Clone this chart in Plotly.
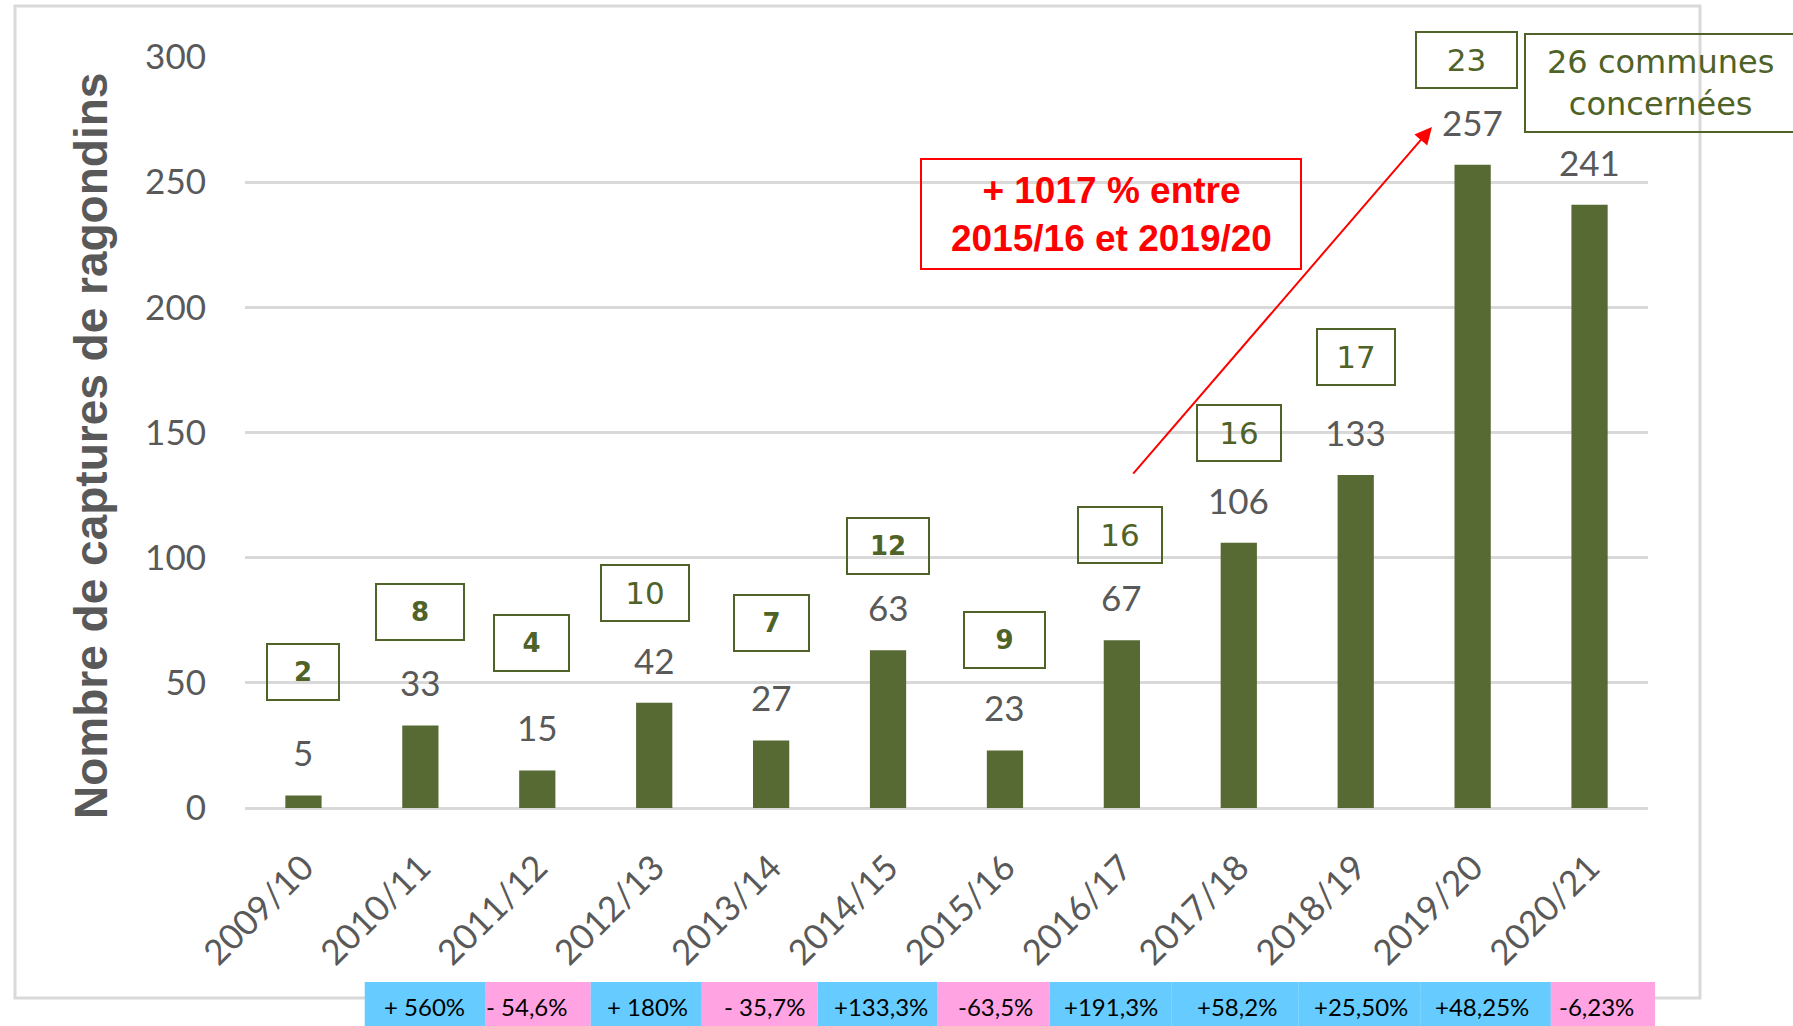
import plotly.graph_objects as go

# ---------------- data ----------------
seasons = ["2009/10", "2010/11", "2011/12", "2012/13", "2013/14", "2014/15",
           "2015/16", "2016/17", "2017/18", "2018/19", "2019/20", "2020/21"]
captures = [5, 33, 15, 42, 27, 63, 23, 67, 106, 133, 257, 241]
communes = [2, 8, 4, 10, 7, 12, 9, 16, 16, 17, 23]
communes_last = "26 communes<br>concernées"
variations = ["+ 560%", "- 54,6%", "+ 180%", "- 35,7%", "+133,3%", "-63,5%",
              "+191,3%", "+58,2%", "+25,50%", "+48,25%", "-6,23%"]
y_ticks = [0, 50, 100, 150, 200, 250, 300]
highlight_text = "+ 1017 % entre<br>2015/16 et 2019/20"
y_title = "Nombre de captures de ragondins"

# ---------------- styling / layout ----------------
W, H = 1793, 1026
L, R, T, B = 245, 145, 57, 218
PW, PH = W - L - R, H - T - B
OLIVE = "#576a33"
BOXTXT = "#4f6228"
GREY = "#595959"
GRID = "#d9d9d9"
BLUE = "#66ccff"
PINK = "#ffa3e3"


def xp(px):
    return (px - L) / PW


def yp(py):
    return (H - B - py) / PH


def cat_paper(idx):
    return (idx + 0.5) / len(seasons)


# commune box placement (pixel offsets above bar top)
box_yshift = [123, 113, 127, 110, 117, 104, 110, 105, 110, 118, 105]
box_xshift = [0, 0, -6, -9, 0, 0, 0, -2, 0, 0, -6]
box_w = [74, 90, 77, 90, 77, 84, 83, 86, 86, 80, 103]
box_bold = [True, True, True, False, True, True, True, False, False, False, False]

# variation strip (positions in category-index units)
var_edges = [0.524, 1.559, 2.457, 3.407, 4.399, 5.425, 6.383, 7.427, 8.513, 9.557, 10.669, 11.56]
var_text_x = [1.037, 1.91, 2.945, 3.946, 4.938, 5.922, 6.906, 7.984, 9.045, 10.08, 11.06]

fig = go.Figure()
fig.add_trace(go.Bar(x=seasons, y=captures, marker=dict(color=OLIVE, line=dict(width=0)),
                     width=0.31, hoverinfo="x+y"))

ann = []
# value labels
for s, v in zip(seasons, captures):
    ann.append(dict(x=s, y=v, xref="x", yref="y", text=str(v), showarrow=False,
                    yanchor="middle", yshift=43,
                    font=dict(family="Lato", size=35, color=GREY)))

# commune boxes
for i, c in enumerate(communes):
    bold = box_bold[i]
    ann.append(dict(x=seasons[i], y=captures[i], xref="x", yref="y", text=str(c),
                    showarrow=False, yanchor="middle", xanchor="center",
                    yshift=box_yshift[i], xshift=box_xshift[i],
                    bordercolor=BOXTXT, borderwidth=2, borderpad=0,
                    width=box_w[i] - 4, height=54,
                    font=dict(family="DejaVu Sans", size=26 if bold else 31, color=BOXTXT,
                              weight="bold" if bold else "normal")))

# 26 communes text
ann.append(dict(x=xp(1661), y=yp(83), xref="paper", yref="paper", text=communes_last,
                showarrow=False, xanchor="center", yanchor="middle",
                font=dict(family="DejaVu Sans", size=32, color=BOXTXT)))

# red highlight text
ann.append(dict(x=xp(1111), y=yp(214), xref="paper", yref="paper", text=highlight_text,
                showarrow=False, xanchor="center", yanchor="middle",
                font=dict(family="Liberation Sans", size=37, color="#ff0000", weight="bold")))

# arrow
ann.append(dict(x=9.652, y=272, xref="x", yref="y", ax=7.086, ay=133, axref="x", ayref="y",
                text="", showarrow=True, arrowhead=2, arrowsize=1.7, arrowwidth=2,
                arrowcolor="#ff0000", standoff=0, startstandoff=0))

# y title
ann.append(dict(x=xp(91), y=yp(446), xref="paper", yref="paper", text=y_title,
                showarrow=False, textangle=-90, xanchor="center", yanchor="middle",
                font=dict(family="Liberation Sans", size=46, color=GREY, weight="bold")))

# variation labels
for i, t in enumerate(variations):
    ann.append(dict(x=cat_paper(var_text_x[i]), y=yp(1006), xref="paper", yref="paper",
                    text=t, showarrow=False, xanchor="center", yanchor="middle",
                    font=dict(family="Lato", size=24, color="#000000")))

shapes = []
# outer frame
shapes.append(dict(type="rect", xref="paper", yref="paper", x0=xp(15), x1=xp(1700),
                   y0=yp(998), y1=yp(6), line=dict(color=GRID, width=3), layer="below"))
# 26 communes box
shapes.append(dict(type="rect", xref="paper", yref="paper", x0=xp(1525), x1=xp(1810),
                   y0=yp(132), y1=yp(34), line=dict(color=BOXTXT, width=2)))
# red box
shapes.append(dict(type="rect", xref="paper", yref="paper", x0=xp(921), x1=xp(1301),
                   y0=yp(269), y1=yp(159), line=dict(color="#ff0000", width=2)))
# variation strip boxes
for i, t in enumerate(variations):
    col = PINK if t.strip().startswith("-") else BLUE
    shapes.append(dict(type="rect", xref="paper", yref="paper",
                       x0=cat_paper(var_edges[i]), x1=cat_paper(var_edges[i + 1]),
                       y0=yp(1040), y1=yp(982), fillcolor=col, line=dict(width=0)))

fig.update_layout(
    width=W, height=H,
    margin=dict(l=L, r=R, t=T, b=B, pad=0),
    paper_bgcolor="white", plot_bgcolor="white",
    showlegend=False,
    bargap=0.69,
    annotations=ann,
    shapes=shapes,
    xaxis=dict(type="category", tickangle=-45, showgrid=False, showline=False,
               zeroline=False, ticks="", ticklabelstandoff=31,
               tickfont=dict(family="Lato", size=35, color=GREY), range=[-0.5, 11.5]),
    yaxis=dict(range=[0, 300], tickvals=y_ticks, showgrid=True, gridcolor=GRID,
               gridwidth=2.5, zeroline=True, zerolinecolor=GRID, zerolinewidth=3,
               showline=False, ticks="", ticklabelstandoff=38,
               tickfont=dict(family="Lato", size=35, color=GREY)),
)

fig.write_html("out.html", config={"displayModeBar": False},
               post_script="document.body.style.margin='0';document.body.style.overflow='hidden';")
